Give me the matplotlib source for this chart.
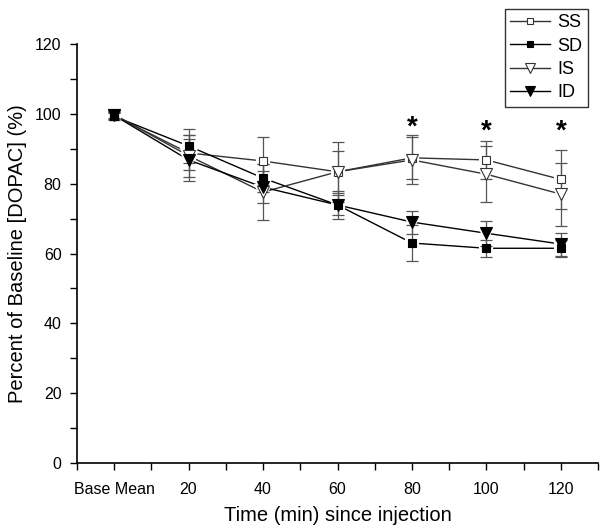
import matplotlib
matplotlib.use("Agg")
import matplotlib.pyplot as plt
from matplotlib.ticker import MultipleLocator

plt.rcParams['font.family'] = ['Liberation Sans', 'DejaVu Sans']

time = [0, 20, 40, 60, 80, 100, 120]
tick_labels = ['Base Mean', '20', '40', '60', '80', '100', '120']

ss = [99.5, 88.8, 86.5, 83.4, 87.4, 86.8, 81.2]
ss_err = [1.0, 5.0, 7.0, 8.6, 6.0, 5.5, 8.4]
sd = [99.3, 90.8, 81.6, 73.9, 63.0, 61.5, 61.5]
sd_err = [1.0, 5.0, 4.0, 3.0, 5.2, 2.5, 2.5]
is_ = [99.8, 88.0, 77.6, 83.4, 86.8, 82.7, 77.0]
is_err = [1.0, 6.0, 8.0, 6.0, 7.0, 8.0, 9.0]
id_ = [99.6, 86.8, 79.0, 73.9, 69.0, 65.8, 62.7]
id_err = [1.0, 6.0, 4.5, 4.0, 3.3, 3.6, 3.3]

star_x = [80, 100, 120]
star_y = [96.0, 95.0, 95.0]

fig = plt.figure(figsize=(6.0, 5.27), dpi=100)
ax = fig.add_axes([0.128, 0.1214, 0.869, 0.7951])

series = [
    ('SS', ss, ss_err, 's', 'white', '#333333', 6.0),
    ('SD', sd, sd_err, 's', 'black', 'black', 6.0),
    ('IS', is_, is_err, 'v', 'white', '#333333', 8.0),
    ('ID', id_, id_err, 'v', 'black', 'black', 8.0),
]

# lines
for name, y, e, m, fc, lc, ms in series:
    ax.plot(time, y, '-', color=lc, lw=1.0, zorder=2)
# white halos to create gaps near markers
for name, y, e, m, fc, lc, ms in series:
    ax.plot(time, y, ls='none', marker=m, ms=ms + 1, mfc='white', mec='white',
            mew=3, zorder=3)
# error bars
for name, y, e, m, fc, lc, ms in series:
    ax.errorbar(time, y, yerr=e, fmt='none', ecolor='#555555', elinewidth=0.9,
                capsize=4, capthick=0.9, zorder=4)
# markers
handles = []
for name, y, e, m, fc, lc, ms in series:
    mec = '#333333' if fc == 'white' else 'black'
    ax.plot(time, y, ls='none', marker=m, ms=ms, mfc=fc, mec=mec,
            mew=0.8, zorder=5)
    h, = ax.plot([], [], '-', color=lc, lw=1.0, marker=m, ms=ms - 1, mfc=fc,
                 mec=mec, mew=0.8)
    handles.append((h, name))

for x, y in zip(star_x, star_y):
    ax.text(x, y, '*', ha='center', va='center', fontsize=20, fontweight='bold')

ax.set_xlim(-10, 130)
ax.set_ylim(0, 120)
ax.set_xticks(time)
ax.set_xticklabels(tick_labels)
ax.xaxis.set_minor_locator(MultipleLocator(10))
ax.yaxis.set_major_locator(MultipleLocator(20))
ax.yaxis.set_minor_locator(MultipleLocator(10))
ax.tick_params(axis='both', which='major', direction='out', length=5, width=1,
               labelsize=11.5, pad=6)
ax.tick_params(axis='both', which='minor', direction='out', length=5, width=1)
ax.tick_params(axis='x', which='major', pad=9)
for s in ['top', 'right']:
    ax.spines[s].set_visible(False)
for s in ['left', 'bottom']:
    ax.spines[s].set_linewidth(1.2)

ax.set_xlabel('Time (min) since injection', fontsize=14.5, labelpad=6)
ax.set_ylabel('Percent of Baseline [DOPAC] (%)', fontsize=14.5, labelpad=6)

leg = fig.legend([h for h, n in handles], [n for h, n in handles],
                 loc='upper left', bbox_to_anchor=(496/600, 1.0),
                 fontsize=13, frameon=True, fancybox=False, edgecolor='black',
                 handlelength=2.2, handletextpad=0.4, borderpad=0.3,
                 labelspacing=0.35)
leg.get_frame().set_linewidth(1.0)

fig.savefig('out.png', dpi=100)
